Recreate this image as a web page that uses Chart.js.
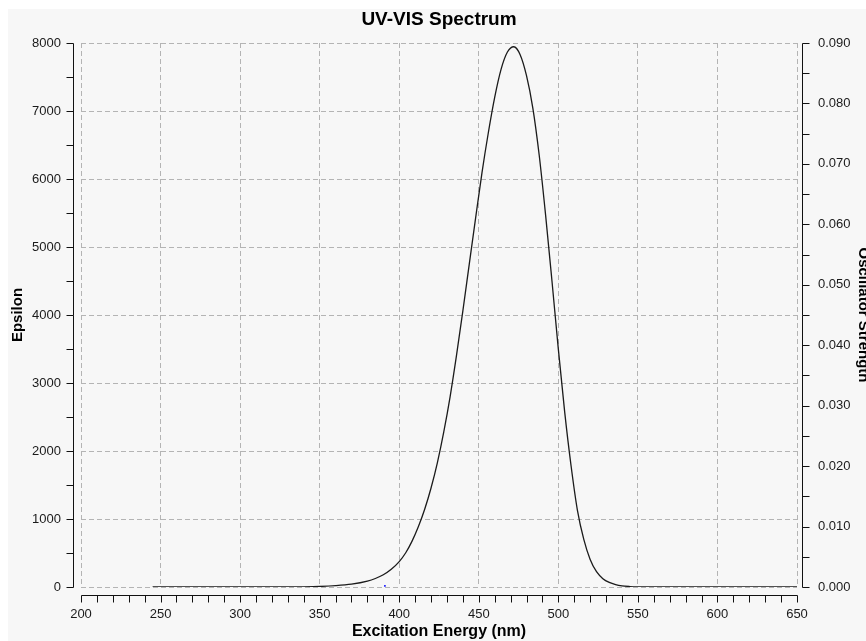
<!DOCTYPE html>
<html>
<head>
<meta charset="utf-8">
<title>UV-VIS Spectrum</title>
<script src="https://cdn.jsdelivr.net/npm/chart.js@4.4.0/dist/chart.umd.min.js"></script>
<style>
  html, body { margin: 0; padding: 0; background: #fff; }
  #wrap { width: 866px; height: 641px; }
</style>
</head>
<body>
<div id="wrap"><canvas id="uvChart" width="866" height="641"></canvas></div>
<script>
// spectrum (nm, epsilon)
const wavelengths = [245, 300, 330, 340, 350, 360, 370, 380, 385, 390, 395, 400, 404, 408, 412, 416, 420, 424, 428, 432, 436, 440, 444, 448, 452, 456, 460, 464, 468, 472, 476, 480, 484, 488, 492, 496, 500, 504, 508, 512, 516, 520, 524, 528, 532, 536, 540, 545, 550, 560, 600, 650];
const epsilon = [0, 0, 1, 3, 8, 19, 41, 86, 125, 180, 261, 374, 500, 671, 885, 1143, 1456, 1830, 2280, 2801, 3405, 4060, 4745, 5425, 6090, 6680, 7200, 7612, 7867, 7945, 7828, 7519, 7040, 6345, 5468, 4500, 3499, 2572, 1783, 1128, 700, 405, 225, 123, 67, 35, 17, 7, 2, 0, 0, 0];

// oscillator strength sticks
const stickWavelengths = [391];
const stickStrengths = [0.0002];

const xMin = 200, xMax = 650, xStep = 50, xMinor = 10;
const epsMax = 8000, epsStep = 1000, epsMinor = 500;
const oscMax = 0.09, oscStep = 0.01, oscMinor = 0.005;

document.addEventListener('DOMContentLoaded', () => {
    Chart.defaults.font.family = "'Liberation Sans', Arial, sans-serif";
    Chart.defaults.color = '#1a1a1a';

    const spectrum = wavelengths.map((w, i) => ({ x: w, y: epsilon[i] }));
    const sticks = stickWavelengths.map((w, i) => ({ x: w, y: stickStrengths[i] }));

    // gray panel and the detached axes with minor ticks
    const offsetAxes = {
        id: 'offsetAxes',
        beforeDraw(chart) {
            const ctx = chart.ctx;
            ctx.save();
            ctx.fillStyle = '#f7f7f7';
            ctx.fillRect(8, 9, chart.width - 8, chart.height - 9);
            ctx.restore();
        },
        afterDraw(chart) {
            const { ctx, chartArea, scales } = chart;
            const px = v => Math.round(v) + 0.5;
            ctx.save();
            ctx.strokeStyle = '#111';
            ctx.lineWidth = 1;
            ctx.beginPath();

            const lx = px(chartArea.left - 8);
            ctx.moveTo(lx, px(scales.y.getPixelForValue(epsMax)));
            ctx.lineTo(lx, px(scales.y.getPixelForValue(0)));
            for (let v = 0; v <= epsMax; v += epsMinor) {
                const py = px(scales.y.getPixelForValue(v));
                ctx.moveTo(lx - 7, py);
                ctx.lineTo(lx, py);
            }

            const rx = px(chartArea.right + 5);
            ctx.moveTo(rx, px(scales.y2.getPixelForValue(oscMax)));
            ctx.lineTo(rx, px(scales.y2.getPixelForValue(0)));
            for (let i = 0; i <= Math.round(oscMax / oscMinor); i++) {
                const py = px(scales.y2.getPixelForValue(i * oscMinor));
                ctx.moveTo(rx, py);
                ctx.lineTo(rx + 7, py);
            }

            const by = px(chartArea.bottom + 8);
            ctx.moveTo(px(scales.x.getPixelForValue(xMin)), by);
            ctx.lineTo(px(scales.x.getPixelForValue(xMax)), by);
            for (let v = xMin; v <= xMax; v += xMinor) {
                const pxx = px(scales.x.getPixelForValue(v));
                ctx.moveTo(pxx, by);
                ctx.lineTo(pxx, by + 7);
            }
            ctx.stroke();
            ctx.restore();
        }
    };

    const gridStyle = { color: '#b4b4b4', lineWidth: 1, drawTicks: false };
    const tickFont = { size: 13 };

    new Chart(document.getElementById('uvChart'), {
        type: 'line',
        data: {
            datasets: [{
                label: 'Epsilon',
                data: spectrum,
                yAxisID: 'y',
                borderColor: '#1b1b1b',
                borderWidth: 1.3,
                pointRadius: 0,
                cubicInterpolationMode: 'monotone',
                fill: false
            }, {
                label: 'Oscillator Strength',
                data: sticks,
                yAxisID: 'y2',
                showLine: false,
                pointStyle: 'rect',
                pointRadius: 1.2,
                backgroundColor: '#2020ff',
                borderColor: '#2020ff',
                borderWidth: 0
            }]
        },
        options: {
            responsive: false,
            animation: false,
            layout: { padding: 0 },
            plugins: {
                legend: { display: false },
                tooltip: { enabled: false },
                title: {
                    display: true,
                    fullSize: false,
                    text: 'UV-VIS Spectrum',
                    color: '#000',
                    font: { size: 19, weight: 'bold' },
                    padding: { top: 8.1, bottom: 12.1 }
                }
            },
            scales: {
                x: {
                    type: 'linear',
                    min: xMin,
                    max: xMax,
                    grid: gridStyle,
                    border: { display: false, dash: [5, 3] },
                    ticks: { stepSize: xStep, padding: 20, font: tickFont, maxRotation: 0, callback: v => String(v) },
                    title: { display: true, text: 'Excitation Energy (nm)', color: '#000', font: { size: 16, weight: 'bold' }, padding: { top: 0, bottom: 0 } },
                    afterFit: s => { s.height = 54; }
                },
                y: {
                    position: 'left',
                    min: 0,
                    max: epsMax,
                    grid: gridStyle,
                    border: { display: false, dash: [5, 3] },
                    ticks: { stepSize: epsStep, padding: 20, font: tickFont, callback: v => String(v) },
                    title: { display: true, text: 'Epsilon', color: '#000', font: { size: 15, weight: 'bold' }, padding: { top: 9, bottom: 0 } },
                    afterFit: s => { s.width = 81; }
                },
                y2: {
                    position: 'right',
                    min: 0,
                    max: oscMax,
                    grid: { display: false, drawTicks: false },
                    border: { display: false },
                    ticks: { stepSize: oscStep, padding: 21, font: tickFont, callback: v => v.toFixed(3) },
                    title: { display: true, text: 'Oscillator Strength', color: '#000', font: { size: 15, weight: 'bold' }, padding: { top: -6, bottom: 0 } },
                    afterFit: s => { s.width = 69; }
                }
            }
        },
        plugins: [offsetAxes]
    });
});
</script>
</body>
</html>
